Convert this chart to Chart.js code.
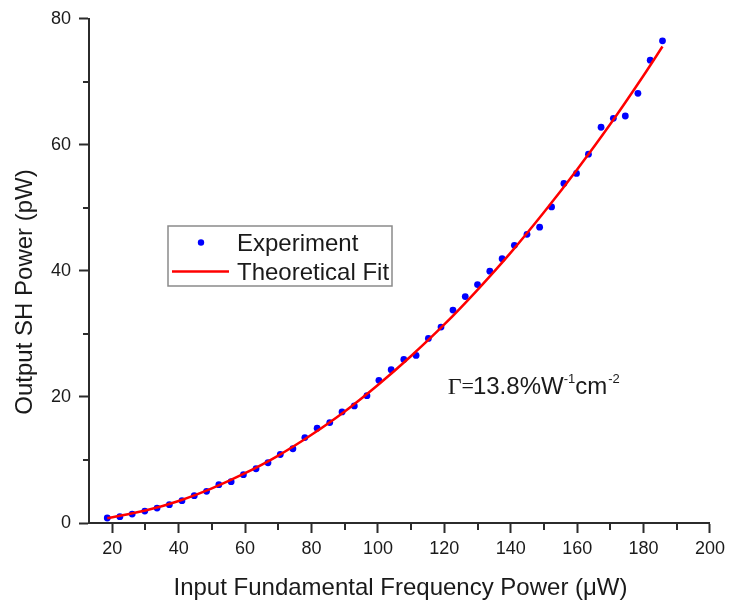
<!DOCTYPE html>
<html>
<head>
<meta charset="utf-8">
<script src="https://cdn.jsdelivr.net/npm/chart.js@4.4.1/dist/chart.umd.min.js"></script>
<style>
  html, body { margin: 0; padding: 0; background: #ffffff; }
  canvas { display: block; }
</style>
</head>
<body>
<canvas id="c" width="730" height="600"></canvas>
<script>
// ---- Data ----
const expX = [18.5, 22.3, 26.0, 29.8, 33.5, 37.2, 41.0, 44.7, 48.4, 52.1, 55.8, 59.5, 63.3, 66.9, 70.6, 74.4,
              78.0, 81.7, 85.5, 89.2, 92.9, 96.7, 100.3, 104.0, 107.8, 111.5, 115.2, 119.0, 122.6, 126.3, 130.0,
              133.7, 137.4, 141.1, 144.9, 148.7, 152.3, 156.0, 159.8, 163.4, 167.2, 170.9, 174.5, 178.3, 182.0, 185.7];
const expY = [0.79, 1.01, 1.42, 1.90, 2.37, 2.91, 3.55, 4.34, 5.02, 6.08, 6.55, 7.66, 8.61, 9.56, 10.87, 11.78,
              13.56, 15.05, 15.94, 17.63, 18.58, 20.21, 22.63, 24.33, 25.96, 26.59, 29.28, 31.09, 33.78, 35.93, 37.83,
              39.95, 41.94, 44.06, 45.80, 46.93, 50.15, 53.87, 55.46, 58.52, 62.79, 64.21, 64.58, 68.17, 73.44, 76.51];
const fitX = [18.5, 30, 40, 50, 60, 70, 80, 90, 100, 110, 120, 130, 140, 150, 160, 170, 180, 185.7];
const fitY = [0.75, 1.97, 3.5, 5.5, 7.9, 10.7, 14.0, 17.7, 21.9, 26.5, 31.5, 37.0, 42.9, 49.3, 56.1, 63.3, 71.0, 75.6];

const xMajorTicks = [20, 40, 60, 80, 100, 120, 140, 160, 180, 200];
const xMinorTicks = [30, 50, 70, 90, 110, 130, 150, 170, 190];
const yMajorTicks = [0, 20, 40, 60, 80];
const yMinorTicks = [10, 30, 50, 70];

const seriesLabels = ['Experiment', 'Theoretical Fit'];
const xTitle = 'Input Fundamental Frequency Power (\u03BCW)';
const yTitle = 'Output SH Power (pW)';
const annotationAt = { x: 121, y: 20.5 };   // data coordinates of the annotation baseline start

// ---- Styling ----
const SANS = '"Liberation Sans", Arial, sans-serif';
const SERIF = '"Liberation Serif", "Times New Roman", serif';
const AXIS_COLOR = '#2b2b2b';
const TEXT_COLOR = '#1a1a1a';

const expPoints = expX.map((x, i) => ({ x: x, y: expY[i] }));
const fitPoints = fitX.map((x, i) => ({ x: x, y: fitY[i] }));

const overlayPlugin = {
  id: 'overlay',
  afterDatasetsDraw(chart) {
    const ctx = chart.ctx;
    const xs = chart.scales.x, ys = chart.scales.y;
    const area = chart.chartArea;
    ctx.save();

    // minor ticks
    ctx.strokeStyle = AXIS_COLOR;
    ctx.lineWidth = 2;
    ctx.beginPath();
    xMinorTicks.forEach(v => {
      const px = Math.round(xs.getPixelForValue(v));
      ctx.moveTo(px, area.bottom);
      ctx.lineTo(px, area.bottom + 7);
    });
    yMinorTicks.forEach(v => {
      const py = Math.round(ys.getPixelForValue(v));
      ctx.moveTo(area.left, py);
      ctx.lineTo(area.left - 6, py);
    });
    ctx.stroke();

    // legend box
    const lx = 168, ly = 226, lw = 224, lh = 60;
    ctx.fillStyle = '#ffffff';
    ctx.fillRect(lx, ly, lw, lh);
    ctx.strokeStyle = '#8a8a8a';
    ctx.lineWidth = 1.5;
    ctx.strokeRect(lx, ly, lw, lh);
    const dsExp = chart.data.datasets[0], dsFit = chart.data.datasets[1];
    ctx.fillStyle = dsExp.backgroundColor;
    ctx.beginPath();
    ctx.arc(201, 242.5, 3.2, 0, Math.PI * 2);
    ctx.fill();
    ctx.strokeStyle = dsFit.borderColor;
    ctx.lineWidth = 2.5;
    ctx.beginPath();
    ctx.moveTo(172, 271.5);
    ctx.lineTo(229, 271.5);
    ctx.stroke();
    ctx.fillStyle = TEXT_COLOR;
    ctx.font = '24px ' + SANS;
    ctx.textAlign = 'left';
    ctx.textBaseline = 'alphabetic';
    ctx.fillText(dsExp.label, 237, 250.5);
    ctx.fillText(dsFit.label, 237, 280);

    // annotation  Γ=13.8%W^-1 cm^-2
    let ax = xs.getPixelForValue(annotationAt.x);
    const ay = ys.getPixelForValue(annotationAt.y);
    ctx.font = '24px ' + SERIF;
    ctx.fillText('\u0393', ax, ay);
    ax += ctx.measureText('\u0393').width;
    ctx.font = '22px ' + SERIF;
    ctx.fillText('=', ax, ay - 1);
    ax += ctx.measureText('=').width - 1;
    ctx.font = '24px ' + SANS;
    ctx.fillText('13.8%W', ax, ay);
    ax += ctx.measureText('13.8%W').width;
    ctx.font = '13px ' + SANS;
    ctx.fillText('-1', ax, ay - 11);
    ax += ctx.measureText('-1').width;
    ctx.font = '24px ' + SANS;
    ctx.fillText('cm', ax, ay);
    ax += ctx.measureText('cm').width;
    ctx.font = '13px ' + SANS;
    ctx.fillText('-2', ax + 1, ay - 11);

    // axis titles
    ctx.font = '24px ' + SANS;
    ctx.textAlign = 'center';
    ctx.fillText(xTitle, (area.left + area.right) / 2 + 1, 595);
    ctx.save();
    ctx.translate(32, 292);
    ctx.rotate(-Math.PI / 2);
    ctx.fillText(yTitle, 0, 0);
    ctx.restore();

    ctx.restore();
  }
};

new Chart(document.getElementById('c'), {
  type: 'scatter',
  data: {
    datasets: [
      {
        label: seriesLabels[0],
        data: expPoints,
        showLine: false,
        pointRadius: 3.4,
        pointHoverRadius: 3.4,
        pointBorderWidth: 0,
        backgroundColor: '#0000ff',
        borderColor: '#0000ff',
        order: 1
      },
      {
        label: seriesLabels[1],
        type: 'line',
        data: fitPoints,
        showLine: true,
        pointRadius: 0,
        borderColor: '#ff0000',
        backgroundColor: '#ff0000',
        borderWidth: 2.5,
        fill: false,
        cubicInterpolationMode: 'monotone',
        order: 0
      }
    ]
  },
  options: {
    responsive: false,
    animation: false,
    devicePixelRatio: 1,
    layout: { padding: { top: 17, right: 17, left: 0, bottom: 0 } },
    plugins: {
      legend: { display: false },
      tooltip: { enabled: false },
      title: { display: false }
    },
    scales: {
      x: {
        type: 'linear',
        min: 13,
        max: 200,
        afterBuildTicks: s => { s.ticks = xMajorTicks.map(v => ({ value: v })); },
        afterFit: s => { s.height = 77; },
        grid: { display: true, drawOnChartArea: false, drawTicks: true, tickLength: 10, tickWidth: 2, tickColor: AXIS_COLOR },
        border: { display: true, color: AXIS_COLOR, width: 2 },
        ticks: { color: TEXT_COLOR, font: { family: SANS, size: 18 }, padding: 5, maxRotation: 0, autoSkip: false },
        title: { display: false }
      },
      y: {
        type: 'linear',
        min: 0,
        max: 80,
        afterBuildTicks: s => { s.ticks = yMajorTicks.map(v => ({ value: v })); },
        afterFit: s => { s.width = 89; },
        grid: { display: true, drawOnChartArea: false, drawTicks: true, tickLength: 10, tickWidth: 2, tickColor: AXIS_COLOR },
        border: { display: true, color: AXIS_COLOR, width: 2 },
        ticks: { color: TEXT_COLOR, font: { family: SANS, size: 18 }, padding: 8, autoSkip: false },
        title: { display: false }
      }
    }
  },
  plugins: [overlayPlugin]
});
</script>
</body>
</html>
